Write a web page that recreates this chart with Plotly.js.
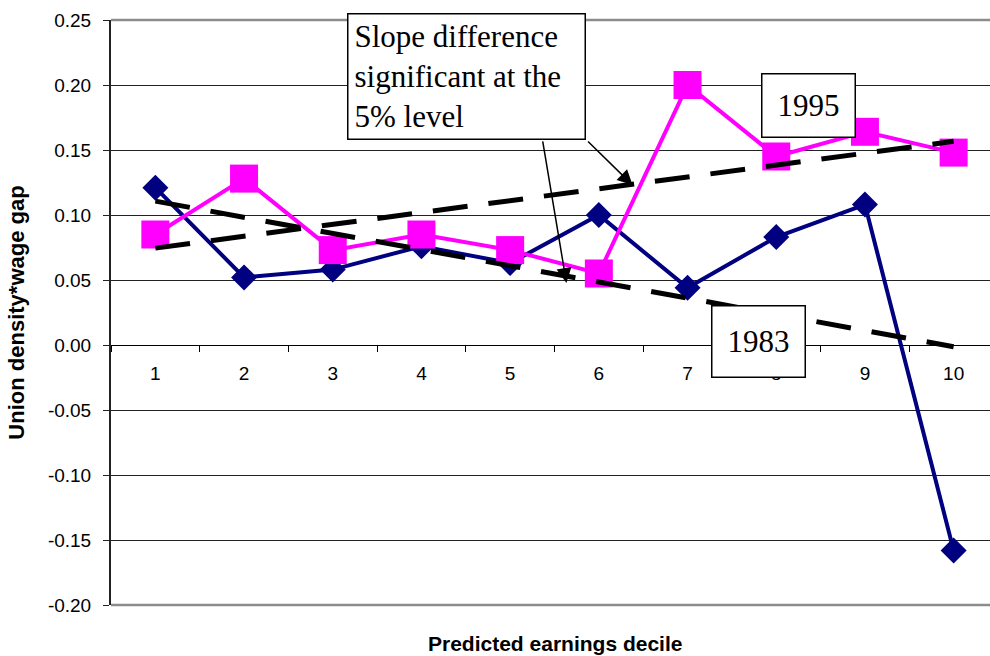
<!DOCTYPE html>
<html>
<head>
<meta charset="utf-8">
<script src="https://cdn.plot.ly/plotly-3.0.1.min.js"></script>
<style>
  html, body { margin: 0; padding: 0; background: #fff; overflow: hidden; }
  #chart { width: 990px; height: 656px; }
</style>
</head>
<body>
<div id="chart"></div>
<script>
// Predicted earnings deciles (category axis)
const deciles = ['1', '2', '3', '4', '5', '6', '7', '8', '9', '10'];

// Union density * wage gap by decile
const gap1983 = [0.121, 0.052, 0.058, 0.076, 0.063, 0.100, 0.044, 0.083, 0.108, -0.158];
const gap1995 = [0.085, 0.128, 0.073, 0.085, 0.073, 0.055, 0.200, 0.145, 0.164, 0.148];

// Y axis ticks
const yTickVals = [0.25, 0.20, 0.15, 0.10, 0.05, 0.00, -0.05, -0.10, -0.15, -0.20];
const yTickText = ['0.25', '0.20', '0.15', '0.10', '0.05', '0.00', '-0.05', '-0.10', '-0.15', '-0.20'];

// Least-squares linear trend over the decile index, evaluated at every decile
function linearTrend(values) {
  const n = values.length;
  const xs = values.map((_, i) => i + 1);
  const mx = xs.reduce((a, b) => a + b, 0) / n;
  const my = values.reduce((a, b) => a + b, 0) / n;
  let sxy = 0, sxx = 0;
  for (let i = 0; i < n; i++) {
    sxy += (xs[i] - mx) * (values[i] - my);
    sxx += (xs[i] - mx) * (xs[i] - mx);
  }
  const slope = sxy / sxx;
  return xs.map(x => my + slope * (x - mx));
}

const trend1983 = linearTrend(gap1983);
const trend1995 = linearTrend(gap1995);

const sans = 'Arial, "Liberation Sans", sans-serif';
const serif = '"Times New Roman", "Liberation Serif", serif';

const traces = [
  {
    name: '1983', x: deciles, y: gap1983, type: 'scatter', mode: 'lines+markers',
    line: { color: '#000080', width: 4 },
    marker: { symbol: 'diamond', size: 20, color: '#000080' }
  },
  {
    name: '1995', x: deciles, y: gap1995, type: 'scatter', mode: 'lines+markers',
    line: { color: '#FF00FF', width: 4 },
    marker: { symbol: 'square', size: 28, color: '#FF00FF' }
  },
  {
    name: '1983 trend', x: deciles, y: trend1983, type: 'scatter', mode: 'lines',
    line: { color: '#000000', width: 5, dash: '35px,21px' }
  },
  {
    name: '1995 trend', x: deciles, y: trend1995, type: 'scatter', mode: 'lines',
    line: { color: '#000000', width: 5, dash: '35px,21px' }
  }
];

const boxFont = { family: serif, size: 31, color: '#000' };

const layout = {
  width: 990,
  height: 656,
  margin: { l: 111, r: 0, t: 20, b: 51, pad: 0 },
  paper_bgcolor: '#ffffff',
  plot_bgcolor: '#ffffff',
  showlegend: false,
  xaxis: {
    type: 'category',
    range: [-0.5, 9.41],
    anchor: 'free',
    position: 0.2 / 0.45,
    showline: true,
    linecolor: '#000',
    linewidth: 1,
    showgrid: false,
    zeroline: false,
    ticks: 'outside',
    tickson: 'boundaries',
    ticklen: 6,
    tickwidth: 1,
    tickcolor: '#000',
    ticklabelstandoff: 11,
    tickfont: { family: sans, size: 19, color: '#000' }
  },
  yaxis: {
    range: [-0.2, 0.25],
    tickvals: yTickVals,
    ticktext: yTickText,
    showline: true,
    linecolor: '#222',
    linewidth: 2,
    showgrid: true,
    gridcolor: '#222',
    gridwidth: 1,
    zeroline: false,
    ticks: 'outside',
    ticklen: 6,
    tickwidth: 1,
    tickcolor: '#222',
    ticklabelstandoff: 8,
    tickfont: { family: sans, size: 19, color: '#000' },
    title: {
      text: 'Union density*wage gap',
      font: { family: sans, size: 22, color: '#000', weight: 'bold' },
      standoff: 17
    }
  },
  shapes: [
    // grey frame lines at top and bottom of the plotting area
    { type: 'line', xref: 'paper', yref: 'paper', x0: 0, x1: 1, y0: 1, y1: 1,
      line: { color: '#8c8c8c', width: 2.5 }, layer: 'below' },
    { type: 'line', xref: 'paper', yref: 'paper', x0: 0, x1: 1, y0: 0, y1: 0,
      line: { color: '#8c8c8c', width: 2.5 }, layer: 'below' }
  ],
  annotations: [
    {
      text: '<b>Predicted earnings decile</b>',
      xref: 'paper', yref: 'paper', x: 0.505, y: -0.065,
      xanchor: 'center', yanchor: 'middle', showarrow: false,
      font: { family: sans, size: 21, color: '#000' }
    },
    // arrows from the note to each trend line
    {
      text: '', xref: 'x', yref: 'y', x: 4.635, y: 0.0477, ax: -24, ay: -143,
      showarrow: true, arrowhead: 2, arrowsize: 2, arrowwidth: 1.5, arrowcolor: '#000'
    },
    {
      text: '', xref: 'x', yref: 'y', x: 5.38, y: 0.123, ax: -46, ay: -45,
      showarrow: true, arrowhead: 2, arrowsize: 2, arrowwidth: 1.5, arrowcolor: '#000'
    },
    {
      text: 'Slope difference<br>significant at the<br>5% level',
      xref: 'x', yref: 'y', x: 3.508, y: 0.2069,
      xanchor: 'center', yanchor: 'middle', showarrow: false, align: 'left',
      width: 224, height: 112, valign: 'middle',
      bgcolor: '#fff', bordercolor: '#000', borderwidth: 1.5, borderpad: 6,
      font: boxFont
    },
    {
      text: '1995', xref: 'x', yref: 'y', x: 7.36, y: 0.1842,
      xanchor: 'center', yanchor: 'middle', showarrow: false,
      width: 80, height: 50, bgcolor: '#fff', bordercolor: '#000', borderwidth: 1.5, borderpad: 6,
      font: boxFont
    },
    {
      text: '1983', xref: 'x', yref: 'y', x: 6.80, y: 0.0027,
      xanchor: 'center', yanchor: 'middle', showarrow: false,
      width: 80, height: 58, bgcolor: '#fff', bordercolor: '#000', borderwidth: 1.5, borderpad: 6,
      font: boxFont
    }
  ]
};

Plotly.newPlot('chart', traces, layout, { staticPlot: true, displayModeBar: false });
</script>
</body>
</html>
